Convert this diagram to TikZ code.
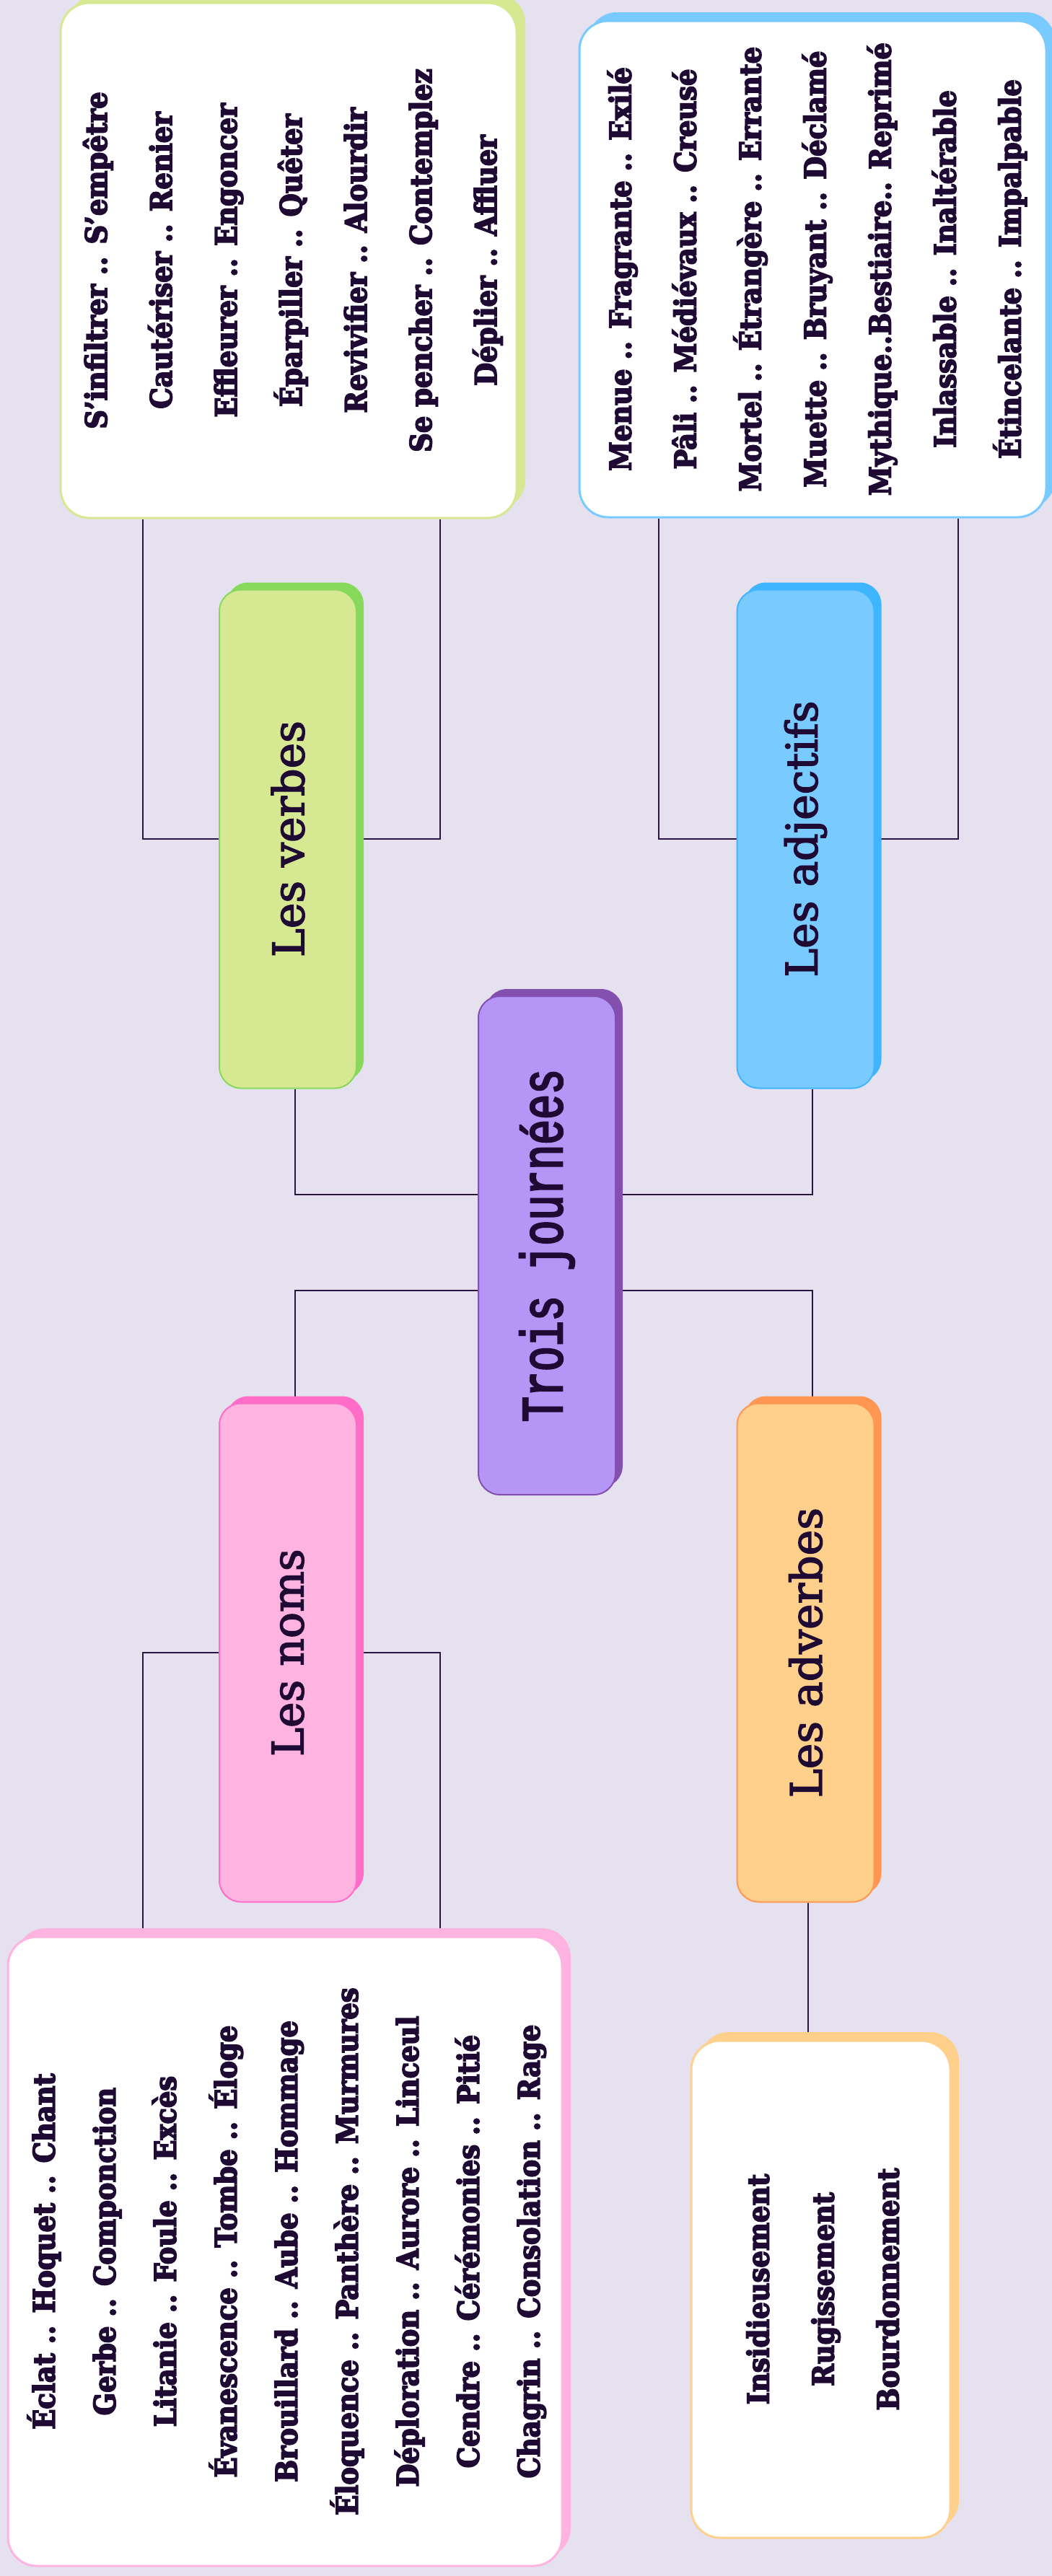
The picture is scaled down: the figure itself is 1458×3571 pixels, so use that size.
\documentclass[tikz,border=0pt]{standalone}
\usepackage{fontspec}
\usetikzlibrary{shadows,calc}
\newfontfamily\listfont{DejaVu Serif}[FakeStretch=0.9, BoldFeatures={FakeBold=4}]
\newfontfamily\catfont{DejaVu Serif}[FakeBold=2.5]
\newfontfamily\rootfont{Liberation Mono}[FakeStretch=0.71, FakeBold=3]
\definecolor{bgc}{HTML}{E6E1EE}
\definecolor{ink}{HTML}{1E0A32}
\definecolor{linec}{HTML}{2A1640}
\definecolor{verL}{HTML}{D7E892}\definecolor{verD}{HTML}{86D95A}
\definecolor{adjL}{HTML}{79CBFF}\definecolor{adjD}{HTML}{3FB4FF}
\definecolor{rootL}{HTML}{B595F5}\definecolor{rootD}{HTML}{8450B0}
\definecolor{nomL}{HTML}{FFB3E1}\definecolor{nomD}{HTML}{FF6DC8}
\definecolor{advL}{HTML}{FFD08B}\definecolor{advD}{HTML}{FF9651}
\pgfdeclarelayer{back}\pgfdeclarelayer{wires}
\pgfsetlayers{back,wires,main}
\tikzset{
  catbox/.style 2 args={draw=#2, fill=#1, line width=2pt, rounded corners=30pt,
    general shadow={fill=#2, shadow xshift=10pt, shadow yshift=10pt},
    minimum width=190pt, minimum height=691pt, inner sep=0pt, text=ink,
    font=\catfont\fontsize{60}{72}\selectfont},
  listbox/.style={draw=#1, fill=white, line width=3pt, rounded corners=40pt,
    general shadow={fill=#1, shadow xshift=12pt, shadow yshift=12pt},
    inner sep=0pt, text=ink},
  conn/.style={draw=linec, line width=2pt},
}
\newcommand{\listtext}[2]{\rotatebox{90}{\listfont\bfseries\fontsize{41}{#1}\selectfont\begin{tabular}{@{}c@{}}#2\end{tabular}}}
\begin{document}
\begin{tikzpicture}[x=1pt,y=-1pt]
\begin{pgfonlayer}{back}
\fill[bgc] (0,0) rectangle (1458,3571);
\end{pgfonlayer}
\useasboundingbox (0,0) rectangle (1458,3571);

% category nodes
\node[catbox={rootL}{rootD}] (root) at (758,1726.5)
  {\rotatebox{90}{\rootfont\fontsize{82}{90}\selectfont Trois journées}};
\node[catbox={verL}{verD}] (verbes) at (399,1163) {\rotatebox{90}{Les verbes}};
\node[catbox={adjL}{adjD}] (adjectifs) at (1116.5,1163) {\rotatebox{90}{Les adjectifs}};
\node[catbox={nomL}{nomD}] (noms) at (399,2291) {\rotatebox{90}{Les noms}};
\node[catbox={advL}{advD}] (adverbes) at (1116.5,2291) {\rotatebox{90}{Les adverbes}};

% list boxes
\node[listbox=verL, minimum width=632pt, minimum height=714pt] (vlist) at (400,361)
  {\listtext{90}{S’infiltrer .. S’empêtre\\ Cautériser .. Renier\\ Effleurer .. Engoncer\\ Éparpiller .. Quêter\\ Revivifier .. Alourdir\\ Se pencher .. Contemplez\\ Déplier .. Affluer}};
\node[listbox=adjL, minimum width=647pt, minimum height=688pt] (alist) at (1126.5,373)
  {\listtext{90}{Menue .. Fragrante .. Exilé\\ Pâli .. Médiévaux .. Creusé\\ Mortel .. Étrangère .. Errante\\ Muette .. Bruyant .. Déclamé\\ Mythique..Bestiaire.. Reprimé\\ Inlassable .. Inaltérable\\ Étincelante .. Impalpable}};
\node[listbox=nomL, minimum width=768pt, minimum height=872pt] (nlist) at (395,3121)
  {\listtext{84}{Éclat .. Hoquet .. Chant\\ Gerbe .. Componction\\ Litanie .. Foule .. Excès\\ Évanescence .. Tombe .. Éloge\\ Brouillard .. Aube .. Hommage\\ Éloquence .. Panthère .. Murmures\\ Déploration .. Aurore .. Linceul\\ Cendre .. Cérémonies .. Pitié\\ Chagrin .. Consolation .. Rage}};
\node[listbox=advL, minimum width=359pt, minimum height=689pt] (advlist) at (1137.5,3173.5)
  {\listtext{90}{Insidieusement\\ Rugissement\\ Bourdonnement}};

% helper coordinates
\coordinate (xL) at (198,0);
\coordinate (xR) at (610,0);
\coordinate (xAL) at (913,0);
\coordinate (xAR) at (1328,0);
\coordinate (xV) at (409,0);
\coordinate (xA) at (1126,0);
\coordinate (xAdv) at (1120,0);
\coordinate (yT) at (0,1656);
\coordinate (yB) at (0,1789);

\begin{pgfonlayer}{wires}
\draw[conn] (verbes.west) -| (vlist.south -| xL);
\draw[conn] (verbes.east) -| (vlist.south -| xR);
\draw[conn] (adjectifs.west) -| (alist.south -| xAL);
\draw[conn] (adjectifs.east) -| (alist.south -| xAR);
\draw[conn] (noms.west) -| (nlist.north -| xL);
\draw[conn] (noms.east) -| (nlist.north -| xR);
\draw[conn] (adverbes.south -| xAdv) -- (advlist.north -| xAdv);
\draw[conn] (root.west |- yT) -| (verbes.south -| xV);
\draw[conn] (root.east |- yT) -| (adjectifs.south -| xA);
\draw[conn] (root.west |- yB) -| (noms.north -| xV);
\draw[conn] (root.east |- yB) -| (adverbes.north -| xA);
\end{pgfonlayer}
\end{tikzpicture}
\end{document}
